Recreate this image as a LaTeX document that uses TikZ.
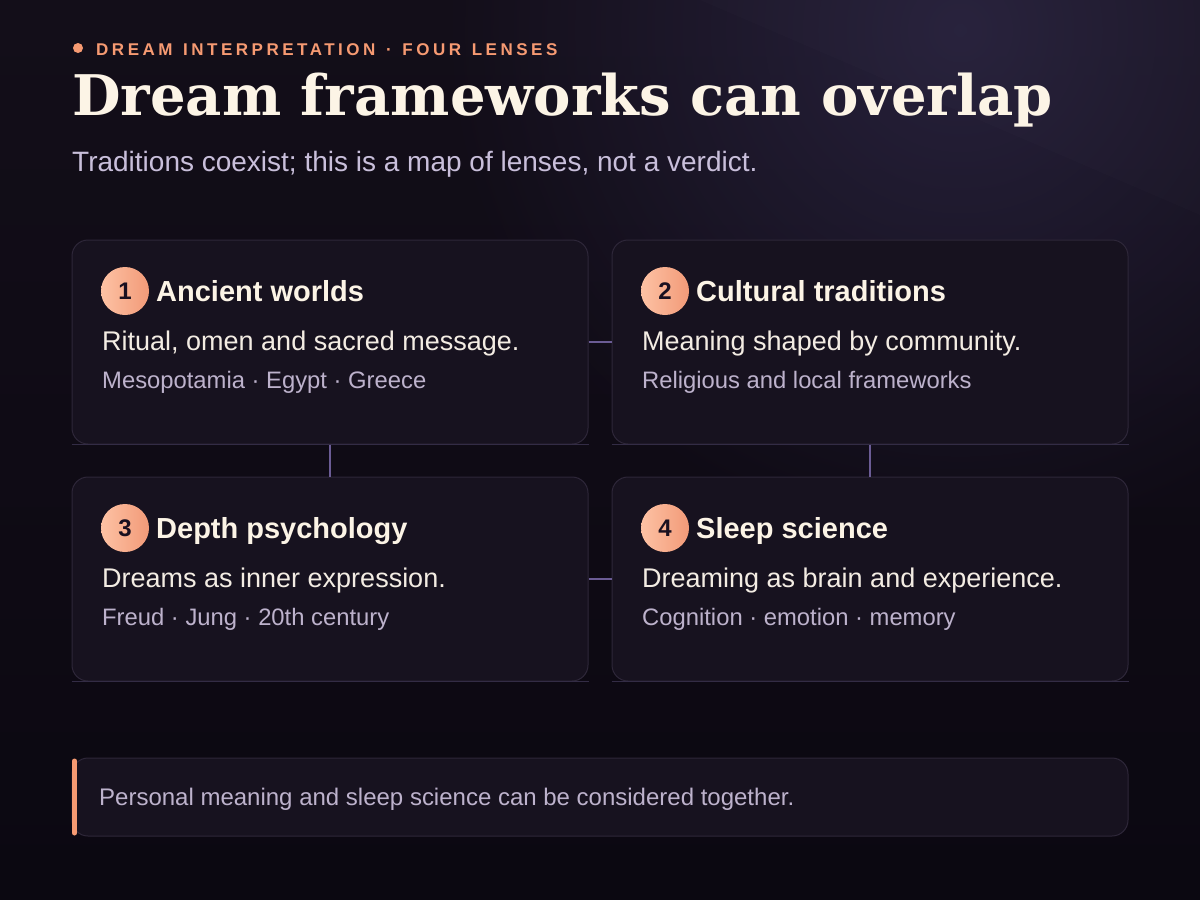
\documentclass[tikz,border=0pt]{standalone}
\usepackage{fontspec}
\setmainfont{Liberation Sans}
\newfontfamily\headfont{DejaVu Serif}
\newfontfamily\kickfont{Liberation Sans}[LetterSpace=20.6, WordSpace=1.3]
\usetikzlibrary{fadings}

\definecolor{bgdark}{HTML}{0B0811}
\definecolor{bgtop}{HTML}{130E19}
\definecolor{glowc}{HTML}{2C2644}
\definecolor{cardfill}{HTML}{17121F}
\definecolor{cardline}{HTML}{2E2739}
\definecolor{cardedge}{HTML}{332C45}
\definecolor{linkc}{HTML}{6B5C95}
\definecolor{cream}{HTML}{FCF4E6}
\definecolor{softtext}{HTML}{F3ECE3}
\definecolor{lavender}{HTML}{BDB2CC}
\definecolor{subc}{HTML}{C9BFDB}
\definecolor{accent}{HTML}{F69A72}
\definecolor{badgelight}{HTML}{FDC2A4}
\definecolor{badgedark}{HTML}{F29A78}
\definecolor{numc}{HTML}{1A1020}

\tikzfading[name=glowfade, inner color=transparent!20, outer color=transparent!100]

\tikzset{
  card/.style={draw=cardline, fill=cardfill, rounded corners=16pt, line width=1pt,
    minimum width=516pt, minimum height=204pt, inner sep=0pt},
  link/.style={draw=linkc, line width=2.4pt},
  badge/.style={circle, minimum size=48pt, inner sep=0pt, shading angle=-45,
    left color=badgelight, right color=badgedark, text=numc,
    font=\bfseries\fontsize{24}{28}\selectfont},
  cardtitle/.style={anchor=base west, inner sep=0pt, text=cream,
    font=\bfseries\fontsize{29}{34}\selectfont},
  cardline2/.style={anchor=base west, inner sep=0pt, text=softtext,
    font=\fontsize{27}{32}\selectfont},
  cardline3/.style={anchor=base west, inner sep=0pt, text=lavender,
    font=\fontsize{23.8}{28}\selectfont},
}

\begin{document}
\begin{tikzpicture}[x=1pt, y=-1pt]
    \useasboundingbox (0,0) rectangle (1200,900);

    % background
    \shade[top color=bgtop, bottom color=bgdark] (0,0) rectangle (1200,900);
    \fill[glowc, path fading=glowfade] (960,30) circle (520);
    \fill[white, opacity=0.012] (700,0) -- (1200,0) -- (1200,215) -- cycle;

    % header
    \fill[accent] (78,48) circle (5);
    \node[anchor=base west, inner sep=0pt, text=accent,
      font=\kickfont\bfseries\fontsize{17}{20}\selectfont] (kicker) at (96,55)
      {DREAM INTERPRETATION · FOUR LENSES};
    \node[anchor=base west, inner sep=0pt, text=cream,
      font=\headfont\bfseries\fontsize{56}{62}\selectfont] (title) at (72,115)
      {Dream frameworks can overlap};
    \node[anchor=base west, inner sep=0pt, text=subc,
      font=\fontsize{28}{32}\selectfont] (subtitle) at (72,171)
      {Traditions coexist; this is a map of lenses, not a verdict.};

    % cards
    \node[card] (c1) at (330,342) {};
    \node[card] (c2) at (870,342) {};
    \node[card] (c3) at (330,579) {};
    \node[card] (c4) at (870,579) {};
    \draw[cardedge] (c1.south west) -- (c1.south east);
    \draw[cardedge] (c2.south west) -- (c2.south east);
    \draw[cardedge] (c3.south west) -- (c3.south east);
    \draw[cardedge] (c4.south west) -- (c4.south east);

    % links
    \draw[link] (c1.east) -- (c2.west);
    \draw[link] (c3.east) -- (c4.west);
    \draw[link] (c1.south) -- (c3.north);
    \draw[link] (c2.south) -- (c4.north);

    % card 1
    \node[badge] (b1) at (125,291) {1};
    \node[cardtitle] (t1) at (156,301) {Ancient worlds};
    \node[cardline2] (d1) at (102,350) {Ritual, omen and sacred message.};
    \node[cardline3] (s1) at (102,388) {Mesopotamia · Egypt · Greece};

    % card 2
    \node[badge] (b2) at (665,291) {2};
    \node[cardtitle] (t2) at (696,301) {Cultural traditions};
    \node[cardline2] (d2) at (642,350) {Meaning shaped by community.};
    \node[cardline3] (s2) at (642,388) {Religious and local frameworks};

    % card 3
    \node[badge] (b3) at (125,528) {3};
    \node[cardtitle] (t3) at (156,538) {Depth psychology};
    \node[cardline2] (d3) at (102,587) {Dreams as inner expression.};
    \node[cardline3] (s3) at (102,625) {Freud · Jung · 20th century};

    % card 4
    \node[badge] (b4) at (665,528) {4};
    \node[cardtitle] (t4) at (696,538) {Sleep science};
    \node[cardline2] (d4) at (642,587) {Dreaming as brain and experience.};
    \node[cardline3] (s4) at (642,625) {Cognition · emotion · memory};

    % note bar
    \node[draw=cardline, fill=cardfill, rounded corners=16pt, line width=1pt,
      minimum width=1056pt, minimum height=78pt, inner sep=0pt] (note) at (600,797) {};
    \draw[accent, line width=5pt, line cap=round] (74.5,761) -- (74.5,833);
    \node[anchor=base west, inner sep=0pt, text=lavender,
      font=\fontsize{24}{28}\selectfont] (notetext) at (99,805)
      {Personal meaning and sleep science can be considered together.};
\end{tikzpicture}
\end{document}
